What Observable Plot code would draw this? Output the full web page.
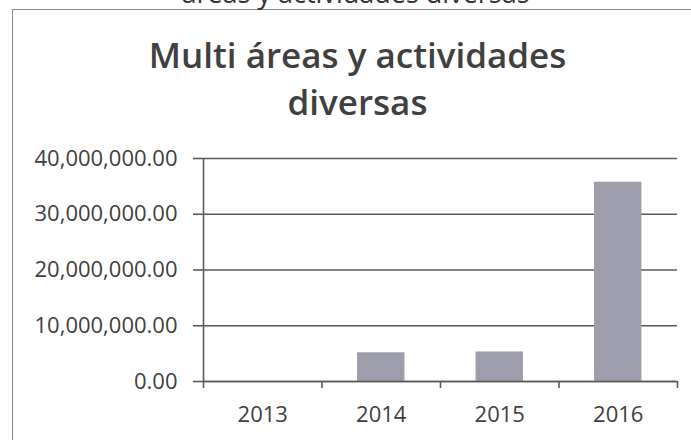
<!DOCTYPE html>
<html>
<head>
<meta charset="utf-8">
<script src="https://cdn.jsdelivr.net/npm/d3@7"></script>
<script src="https://cdn.jsdelivr.net/npm/@observablehq/plot@0.6"></script>
<style>
  html, body { margin: 0; padding: 0; background: #fff; }
  #wrap { position: relative; width: 691px; height: 440px; overflow: hidden; background: #fff; font-family: "Open Sans", sans-serif; }
  #frame { position: absolute; left: 12px; top: 9px; width: 700px; height: 460px; border: 1.5px solid #8a8a8a; box-sizing: border-box; }
  .t { position: absolute; left: 0; width: 691px; text-align: center; color: #404040; white-space: nowrap; }
  #cut { top: -26px; left: 10px; font-size: 27px; color: #333; line-height: normal; }
  .title { font-weight: 600; font-size: 35px; line-height: 47px; left: 12px; }
  #chart { position: absolute; left: 0; top: 130px; }
</style>
</head>
<body>
<div id="wrap">
  <div id="frame"></div>
  <div class="t" id="cut">áreas y actividades diversas</div>
  <div class="t title" style="top:31px">Multi áreas y actividades</div>
  <div class="t title" style="top:78px">diversas</div>
  <div id="chart"></div>
</div>
<script>
const years = [2013, 2014, 2015, 2016];
const values = [0, 5150000, 5300000, 35750000];
const yTicks = [0, 10000000, 20000000, 30000000, 40000000];

const data = years.map((year, i) => ({year, value: values[i]}));
const boundaries = [years[0] - 0.5, ...years.map(y => y + 0.5)];
const fmt = d3.format(",.2f");
const lineColor = "#5a5a5a";

const chart = Plot.plot({
  width: 691,
  height: 310,
  marginTop: 28,
  marginBottom: 59,
  marginLeft: 203,
  marginRight: 14,
  style: {fontFamily: "'Open Sans', sans-serif", fontSize: "22px", color: "#404040", background: "transparent", overflow: "visible"},
  x: {type: "linear", domain: [boundaries[0], boundaries[boundaries.length - 1]]},
  y: {domain: [0, 40000000]},
  marks: [
    Plot.ruleY(yTicks, {stroke: lineColor, strokeWidth: 1.6}),
    Plot.rectY(data, {x1: d => d.year - 0.2, x2: d => d.year + 0.2, y1: 0, y2: "value", fill: "#9d9dab"}),
    Plot.ruleY([0], {stroke: lineColor, strokeWidth: 1.6}),
    Plot.ruleX([boundaries[0]], {y1: 0, y2: 40000000, stroke: lineColor, strokeWidth: 1.6}),
    Plot.axisY({ticks: yTicks, tickFormat: fmt, tickSize: 10, tickPadding: 16, label: null, fontSize: 22, stroke: lineColor, strokeWidth: 1.6, fill: "#404040"}),
    Plot.axisX({ticks: boundaries, tickFormat: () => "", tickSize: 7, label: null, stroke: lineColor, strokeWidth: 1.6}),
    Plot.axisX({ticks: years, tickFormat: d => String(d), tickSize: 0, tickPadding: 25, label: null, fontSize: 22, fill: "#404040"})
  ]
});
document.getElementById("chart").appendChild(chart);
</script>
</body>
</html>
